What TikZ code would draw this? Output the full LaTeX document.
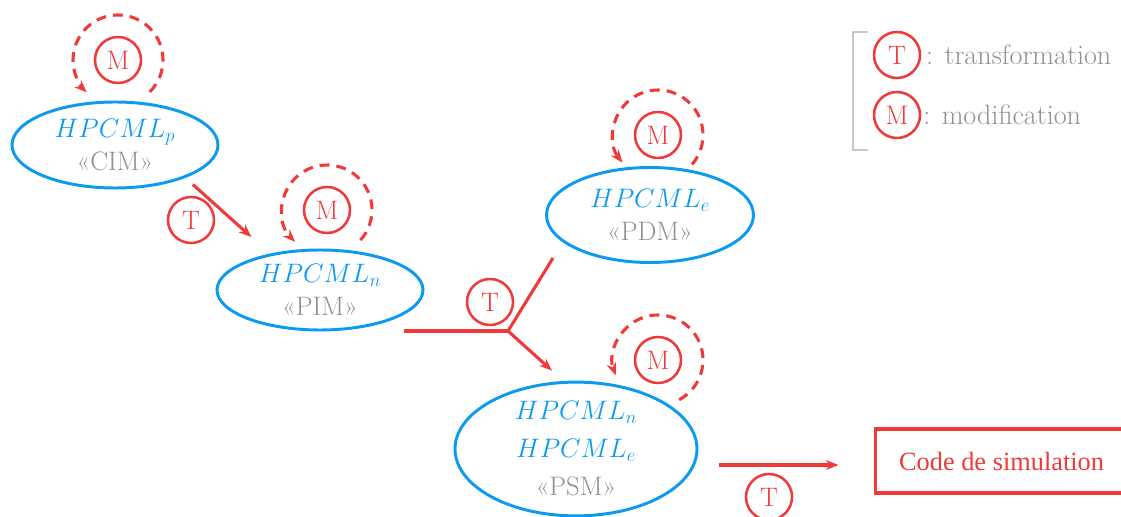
\documentclass[tikz,border=0pt]{standalone}
\usepackage{fix-cm}
\usepackage{fontspec}
\newfontfamily\codefont{Liberation Serif}
\usepackage{tikz}
\usetikzlibrary{arrows.meta, positioning, shapes.geometric, calc}
\definecolor{modelblue}{HTML}{0B9AF0}
\definecolor{trred}{HTML}{F03A3A}
\definecolor{labelgray}{HTML}{909090}
\definecolor{bracketgray}{HTML}{C8C8C8}

\tikzset{
  model/.style={ellipse, draw=modelblue, line width=2.1pt, inner sep=0pt, align=center, text=labelgray},
  op/.style={circle, draw=trred, text=trred, line width=1.8pt, minimum size=1.15cm, inner sep=0pt},
  flow/.style={trred, line width=2.2pt},
  loopback/.style={trred, line width=2.2pt, dash pattern=on 7pt off 5pt, ->},
}
\newcommand{\hp}[1]{\textcolor{modelblue}{$HPCML_{#1}$}}

\begin{document}
\begin{tikzpicture}[>={Stealth[length=9pt,width=7pt]}, font=\fontsize{19}{23}\selectfont]
  \useasboundingbox (0,0) rectangle (28.025,12.9);

  % Modeles
  \node[model, minimum width=5.15cm, minimum height=2.15cm] (p) at (2.875,9.275) {\hp{p}\\«CIM»};
  \node[model, minimum width=5.15cm, minimum height=2.0cm] (n) at (8.0,5.65) {\hp{n}\\«PIM»};
  \node[model, minimum width=5.175cm, minimum height=2.375cm] (e) at (16.25,7.525) {\hp{e}\\«PDM»};
  \node[model, minimum width=6.05cm, minimum height=3.2cm] (s) at (14.4,1.675) {\hp{n}\\[4pt]\hp{e}\\[4pt]«PSM»};

  % Code
  \node[draw=trred, line width=2.2pt, text=trred, minimum width=6.3cm, minimum height=1.6cm, anchor=west,
        font=\fontsize{18.75}{22}\selectfont\codefont] (code) at (21.85,1.375) {Code de simulation};

  % Modifications
  \node[op] (mp) at (2.95,11.4) {M};
  \node[op] (mn) at (8.175,7.65) {M};
  \node[op] (me) at (16.45,9.525) {M};
  \node[op] (ms) at (16.45,3.9) {M};
  \draw[loopback] ($(mp)+(-45:1.125)$) arc[start angle=-45, end angle=226, radius=1.125];
  \draw[loopback] ($(mn)+(-42:1.125)$) arc[start angle=-42, end angle=225, radius=1.125];
  \draw[loopback] ($(me)+(-41:1.125)$) arc[start angle=-41, end angle=218, radius=1.125];
  \draw[loopback] ($(ms)+(-62:1.125)$) arc[start angle=-62, end angle=200, radius=1.125];

  % Transformations
  \node[op] (t1) at (4.775,7.4) {T};
  \draw[flow, ->, shorten <=0.25cm, shorten >=0.62cm] (p.-25) -- (n.144);

  \node[op] (t2) at (12.25,5.35) {T};
  \coordinate (j) at (12.7,4.625);
  \draw[flow] ($(n.east)+(-0.5,-1.025)$) -- (j);
  \draw[flow] (j) -- ($(e.south)+(-2.425,0.15)$);
  \draw[flow, ->] (j) -- ($(s.north)+(-0.6,0.25)$);

  \node[op] (t3) at (19.225,0.475) {T};
  \draw[flow, ->] ($(s.east)+(0.525,-0.4)$) -- ++(2.975,0);

  % Legende
  \draw[bracketgray, line width=2pt] (21.7,12.1) -- (21.325,12.1) -- (21.325,9.15) -- (21.7,9.15);
  \node[op] (tl) at (22.425,11.525) {T};
  \node[op] (ml) at (22.425,10.025) {M};
  \node[right=0pt of tl, text=labelgray, font=\fontsize{20}{24}\selectfont] (tltext) {: transformation};
  \node[right=-2pt of ml, text=labelgray, font=\fontsize{20}{24}\selectfont] (mltext) {: modification};
\end{tikzpicture}
\end{document}
